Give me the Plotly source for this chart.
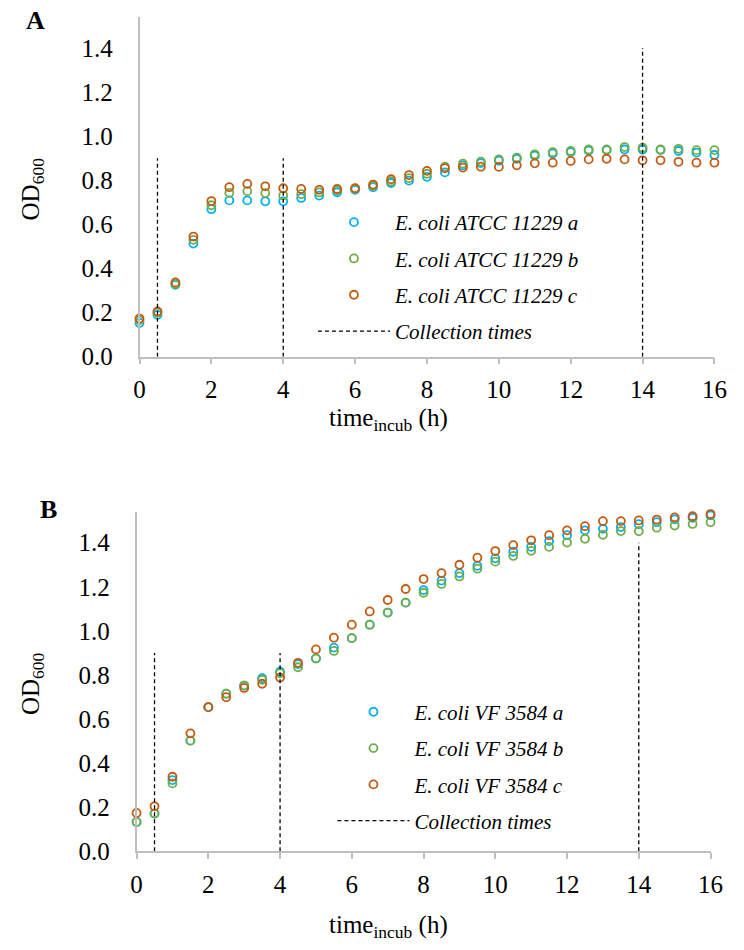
import plotly.graph_objects as go

# Sampling times (h)
time_h = [0, 0.5, 1, 1.5, 2, 2.5, 3, 3.5, 4, 4.5, 5, 5.5, 6, 6.5, 7, 7.5, 8,
          8.5, 9, 9.5, 10, 10.5, 11, 11.5, 12, 12.5, 13, 13.5, 14, 14.5, 15, 15.5, 16]

# Panel A: E. coli ATCC 11229 replicates (OD600)
atcc_a = [0.153, 0.190, 0.326, 0.513, 0.669, 0.709, 0.709, 0.705, 0.705, 0.720, 0.731,
          0.746, 0.757, 0.769, 0.788, 0.799, 0.816, 0.836, 0.868, 0.878, 0.889, 0.898,
          0.912, 0.922, 0.928, 0.935, 0.937, 0.940, 0.940, 0.938, 0.933, 0.926, 0.915]
atcc_b = [0.165, 0.200, 0.330, 0.530, 0.687, 0.743, 0.751, 0.742, 0.731, 0.737, 0.745,
          0.755, 0.762, 0.775, 0.795, 0.810, 0.830, 0.862, 0.876, 0.885, 0.895, 0.903,
          0.918, 0.928, 0.933, 0.940, 0.940, 0.951, 0.948, 0.940, 0.943, 0.937, 0.937]
atcc_c = [0.173, 0.205, 0.337, 0.545, 0.706, 0.769, 0.784, 0.773, 0.764, 0.761, 0.757,
          0.761, 0.764, 0.781, 0.805, 0.824, 0.843, 0.855, 0.858, 0.862, 0.861, 0.868,
          0.877, 0.880, 0.888, 0.895, 0.898, 0.895, 0.891, 0.891, 0.884, 0.880, 0.880]

# Panel B: E. coli VF 3584 replicates (OD600)
vf_a = [0.133, 0.171, 0.323, 0.502, 0.654, 0.715, 0.752, 0.785, 0.815, 0.849, 0.875,
        0.924, 0.967, 1.028, 1.083, 1.128, 1.185, 1.228, 1.262, 1.295, 1.329, 1.359,
        1.381, 1.407, 1.434, 1.456, 1.463, 1.471, 1.484, 1.493, 1.506, 1.513, 1.524]
vf_b = [0.133, 0.171, 0.308, 0.502, 0.654, 0.715, 0.752, 0.778, 0.808, 0.835, 0.875,
        0.909, 0.967, 1.028, 1.083, 1.128, 1.173, 1.213, 1.247, 1.282, 1.314, 1.340,
        1.363, 1.381, 1.401, 1.418, 1.436, 1.453, 1.452, 1.468, 1.478, 1.485, 1.493]
vf_c = [0.174, 0.204, 0.338, 0.535, 0.654, 0.699, 0.741, 0.760, 0.788, 0.855, 0.916,
        0.969, 1.028, 1.088, 1.140, 1.190, 1.235, 1.262, 1.300, 1.332, 1.362, 1.389,
        1.411, 1.434, 1.456, 1.475, 1.498, 1.498, 1.501, 1.505, 1.515, 1.520, 1.530]

# Sample collection times (h) and the height of each marker line (OD600)
collection_times = [0.5, 4, 14]
collection_heights = [0.9, 0.9, 1.4]

x_ticks = [0, 2, 4, 6, 8, 10, 12, 14, 16]
y_ticks = [0.0, 0.2, 0.4, 0.6, 0.8, 1.0, 1.2, 1.4]
y_tick_text = [f"{v:.1f}" for v in y_ticks]
Y_MAX = 1.54

colors = ["#00B0F0", "#70AD47", "#C55A11"]
SERIF = "Liberation Serif, Times New Roman, serif"
W, H = 744, 950
PX_PER_UNIT = 223.7


def vline_xy(times, heights):
    xs, ys = [], []
    for t, h in zip(times, heights):
        xs += [t, t, None]
        ys += [0, h, None]
    return xs, ys


fig = go.Figure()

panels = [
    ("x", "y", "legend", [atcc_a, atcc_b, atcc_c],
     ["E. coli ATCC 11229 a", "E. coli ATCC 11229 b", "E. coli ATCC 11229 c"]),
    ("x2", "y2", "legend2", [vf_a, vf_b, vf_c],
     ["E. coli VF 3584 a", "E. coli VF 3584 b", "E. coli VF 3584 c"]),
]

for xa, ya, leg, series, names in panels:
    for i, (vals, name) in enumerate(zip(series, names)):
        fig.add_trace(go.Scatter(
            x=time_h, y=vals, mode="markers", name=name,
            xaxis=xa, yaxis=ya, legend=leg, legendgroup=f"{leg}-{i}",
            cliponaxis=False,
            marker=dict(symbol="circle-open", size=8, color=colors[i],
                        line=dict(width=1.8, color=colors[i])),
        ))
    vx, vy = vline_xy(collection_times, collection_heights)
    fig.add_trace(go.Scatter(
        x=vx, y=vy, mode="lines", name="Collection times",
        xaxis=xa, yaxis=ya, legend=leg, legendgroup=f"{leg}-ct",
        line=dict(color="#000000", width=1.3, dash="4px,3px"),
    ))


def px_x(p):
    return p / W


def px_y(p):
    return 1 - p / H


axis_common = dict(showgrid=False, zeroline=False, showline=True,
                   linecolor="#BFBFBF", linewidth=1.5,
                   tickfont=dict(family=SERIF, size=25, color="#000000"))

xa_common = dict(axis_common, range=[0, 16], tickvals=x_ticks,
                 ticks="outside", ticklen=6, tickcolor="#BFBFBF", tickwidth=1.5,
                 ticklabelstandoff=4)
# y axis: no visible tick marks, labels set back from the axis line
ya_common = dict(axis_common, range=[0, Y_MAX], tickvals=y_ticks, ticktext=y_tick_text,
                 ticks="outside", ticklen=20, tickcolor="rgba(0,0,0,0)")

legend_common = dict(xanchor="left", yanchor="top", bgcolor="rgba(0,0,0,0)",
                     font=dict(family=SERIF, size=21, color="#000000", style="italic"),
                     itemwidth=72, tracegroupgap=6, traceorder="grouped")


def label(text, x, y, size=25, angle=0):
    return dict(text=text, x=px_x(x), y=px_y(y), xref="paper", yref="paper",
                xanchor="center", yanchor="middle", textangle=angle,
                showarrow=False, font=dict(family=SERIF, size=size, color="#000000"))


a_bottom, b_bottom = 362, 864
fig.update_layout(
    width=W, height=H,
    margin=dict(l=0, r=0, t=0, b=0),
    paper_bgcolor="#FFFFFF", plot_bgcolor="#FFFFFF",
    showlegend=True,
    xaxis=dict(xa_common, domain=[px_x(137), px_x(727)], anchor="y"),
    yaxis=dict(ya_common, domain=[px_y(a_bottom), px_y(a_bottom - Y_MAX * PX_PER_UNIT)],
               anchor="x"),
    xaxis2=dict(xa_common, domain=[px_x(134), px_x(723)], anchor="y2"),
    yaxis2=dict(ya_common, domain=[px_y(b_bottom), px_y(b_bottom - Y_MAX * PX_PER_UNIT)],
                anchor="x2"),
    legend=dict(legend_common, x=px_x(315), y=px_y(205)),
    legend2=dict(legend_common, x=px_x(335), y=px_y(702)),
    annotations=[
        label("<b>A</b>", 30, 21, size=26),
        label("<b>B</b>", 44, 517, size=26),
        label("OD<sub>600</sub>", 27, 192, angle=-90),
        label("OD<sub>600</sub>", 27, 694, angle=-90),
        label("time<sub>incub</sub> (h)", 393, 426),
        label("time<sub>incub</sub> (h)", 393, 940),
    ],
)

fig.write_html("out.html")
